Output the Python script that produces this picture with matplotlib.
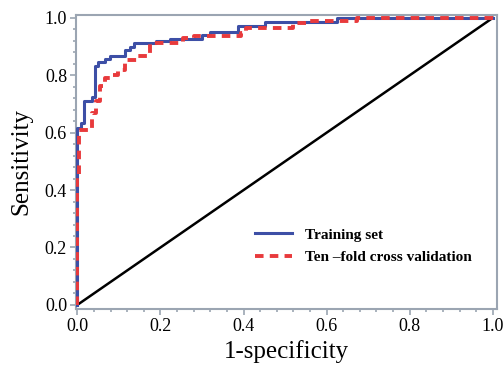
"""
ROC curves: training set vs ten-fold cross validation.
"""

import matplotlib
matplotlib.use('Agg')
import matplotlib.pyplot as plt
from matplotlib.ticker import MultipleLocator


# Step corners: at each FPR the TPR rises to the listed value.
TRAIN_FPR = [0.0, 0.0, 0.008, 0.016, 0.035, 0.043, 0.05, 0.067, 0.079, 0.115,
             0.127, 0.136, 0.19, 0.223, 0.299, 0.319, 0.387, 0.451, 0.624,
             1.0]
TRAIN_TPR = [0.0, 0.615, 0.635, 0.712, 0.723, 0.831, 0.848, 0.857, 0.868,
             0.889, 0.9, 0.914, 0.92, 0.926, 0.94, 0.952, 0.97, 0.986, 1.0,
             1.0]

CV_FPR = [0.0, 0.0, 0.004, 0.035, 0.046, 0.055, 0.067, 0.079, 0.099, 0.115,
          0.143, 0.171, 0.175, 0.255, 0.28, 0.395, 0.405, 0.52, 0.56, 0.673,
          1.0]
CV_TPR = [0.0, 0.446, 0.609, 0.668, 0.712, 0.761, 0.79, 0.8, 0.819, 0.854,
          0.866, 0.878, 0.913, 0.93, 0.936, 0.947, 0.963, 0.982, 0.99, 1.0,
          1.0]

DIAGONAL = [0.0, 1.0]

SERIES_LABELS = ['Training set', 'Ten \u2013fold cross validation']

SPINE_COLOR = '#9ba5b2'


def main():

    plt.rcParams['font.family'] = ['Liberation Serif', 'DejaVu Serif']

    fig = plt.figure(figsize=(5.04, 3.66), dpi=100)
    axes = fig.add_axes([0.151, 0.156, 0.835, 0.803])

    axes.step(TRAIN_FPR, TRAIN_TPR, where='post', color='#3d4fa6', lw=2.2,
              label=SERIES_LABELS[0], zorder=3)
    axes.step(CV_FPR, CV_TPR, where='post', color='#e83a3c', lw=2.8,
              ls=(0, (2.2, 1.6)), label=SERIES_LABELS[1], zorder=4)
    axes.plot(DIAGONAL, DIAGONAL, color='black', lw=1.8, zorder=2)

    axes.set_xlim(-0.003, 1.01)
    axes.set_ylim(-0.014, 1.01)

    axes.xaxis.set_major_locator(MultipleLocator(0.2))
    axes.xaxis.set_minor_locator(MultipleLocator(0.04))
    axes.yaxis.set_major_locator(MultipleLocator(0.2))
    axes.yaxis.set_minor_locator(MultipleLocator(0.04))
    axes.xaxis.set_major_formatter(lambda v, p: f'{v:.1f}')
    axes.yaxis.set_major_formatter(lambda v, p: f'{v:.1f}')

    axes.tick_params(which='both', direction='out', color=SPINE_COLOR,
                     width=1.2, labelsize=13, pad=2)
    axes.tick_params(which='major', length=4.5)
    axes.tick_params(which='minor', length=2.5)
    for spine in axes.spines.values():
        spine.set_color(SPINE_COLOR)
        spine.set_linewidth(1.5)

    axes.set_xlabel('1-specificity', fontsize=18, labelpad=4)
    axes.set_ylabel('Sensitivity', fontsize=18, labelpad=9)

    axes.legend(loc='center left', bbox_to_anchor=(0.425, 0.214),
                frameon=False, prop={'weight': 'bold', 'size': 11},
                handlelength=2.4, handletextpad=0.85, labelspacing=0.55,
                borderpad=0, borderaxespad=0)

    fig.savefig('out.png', dpi=100)
    plt.close(fig)


if __name__ == '__main__':
    main()
